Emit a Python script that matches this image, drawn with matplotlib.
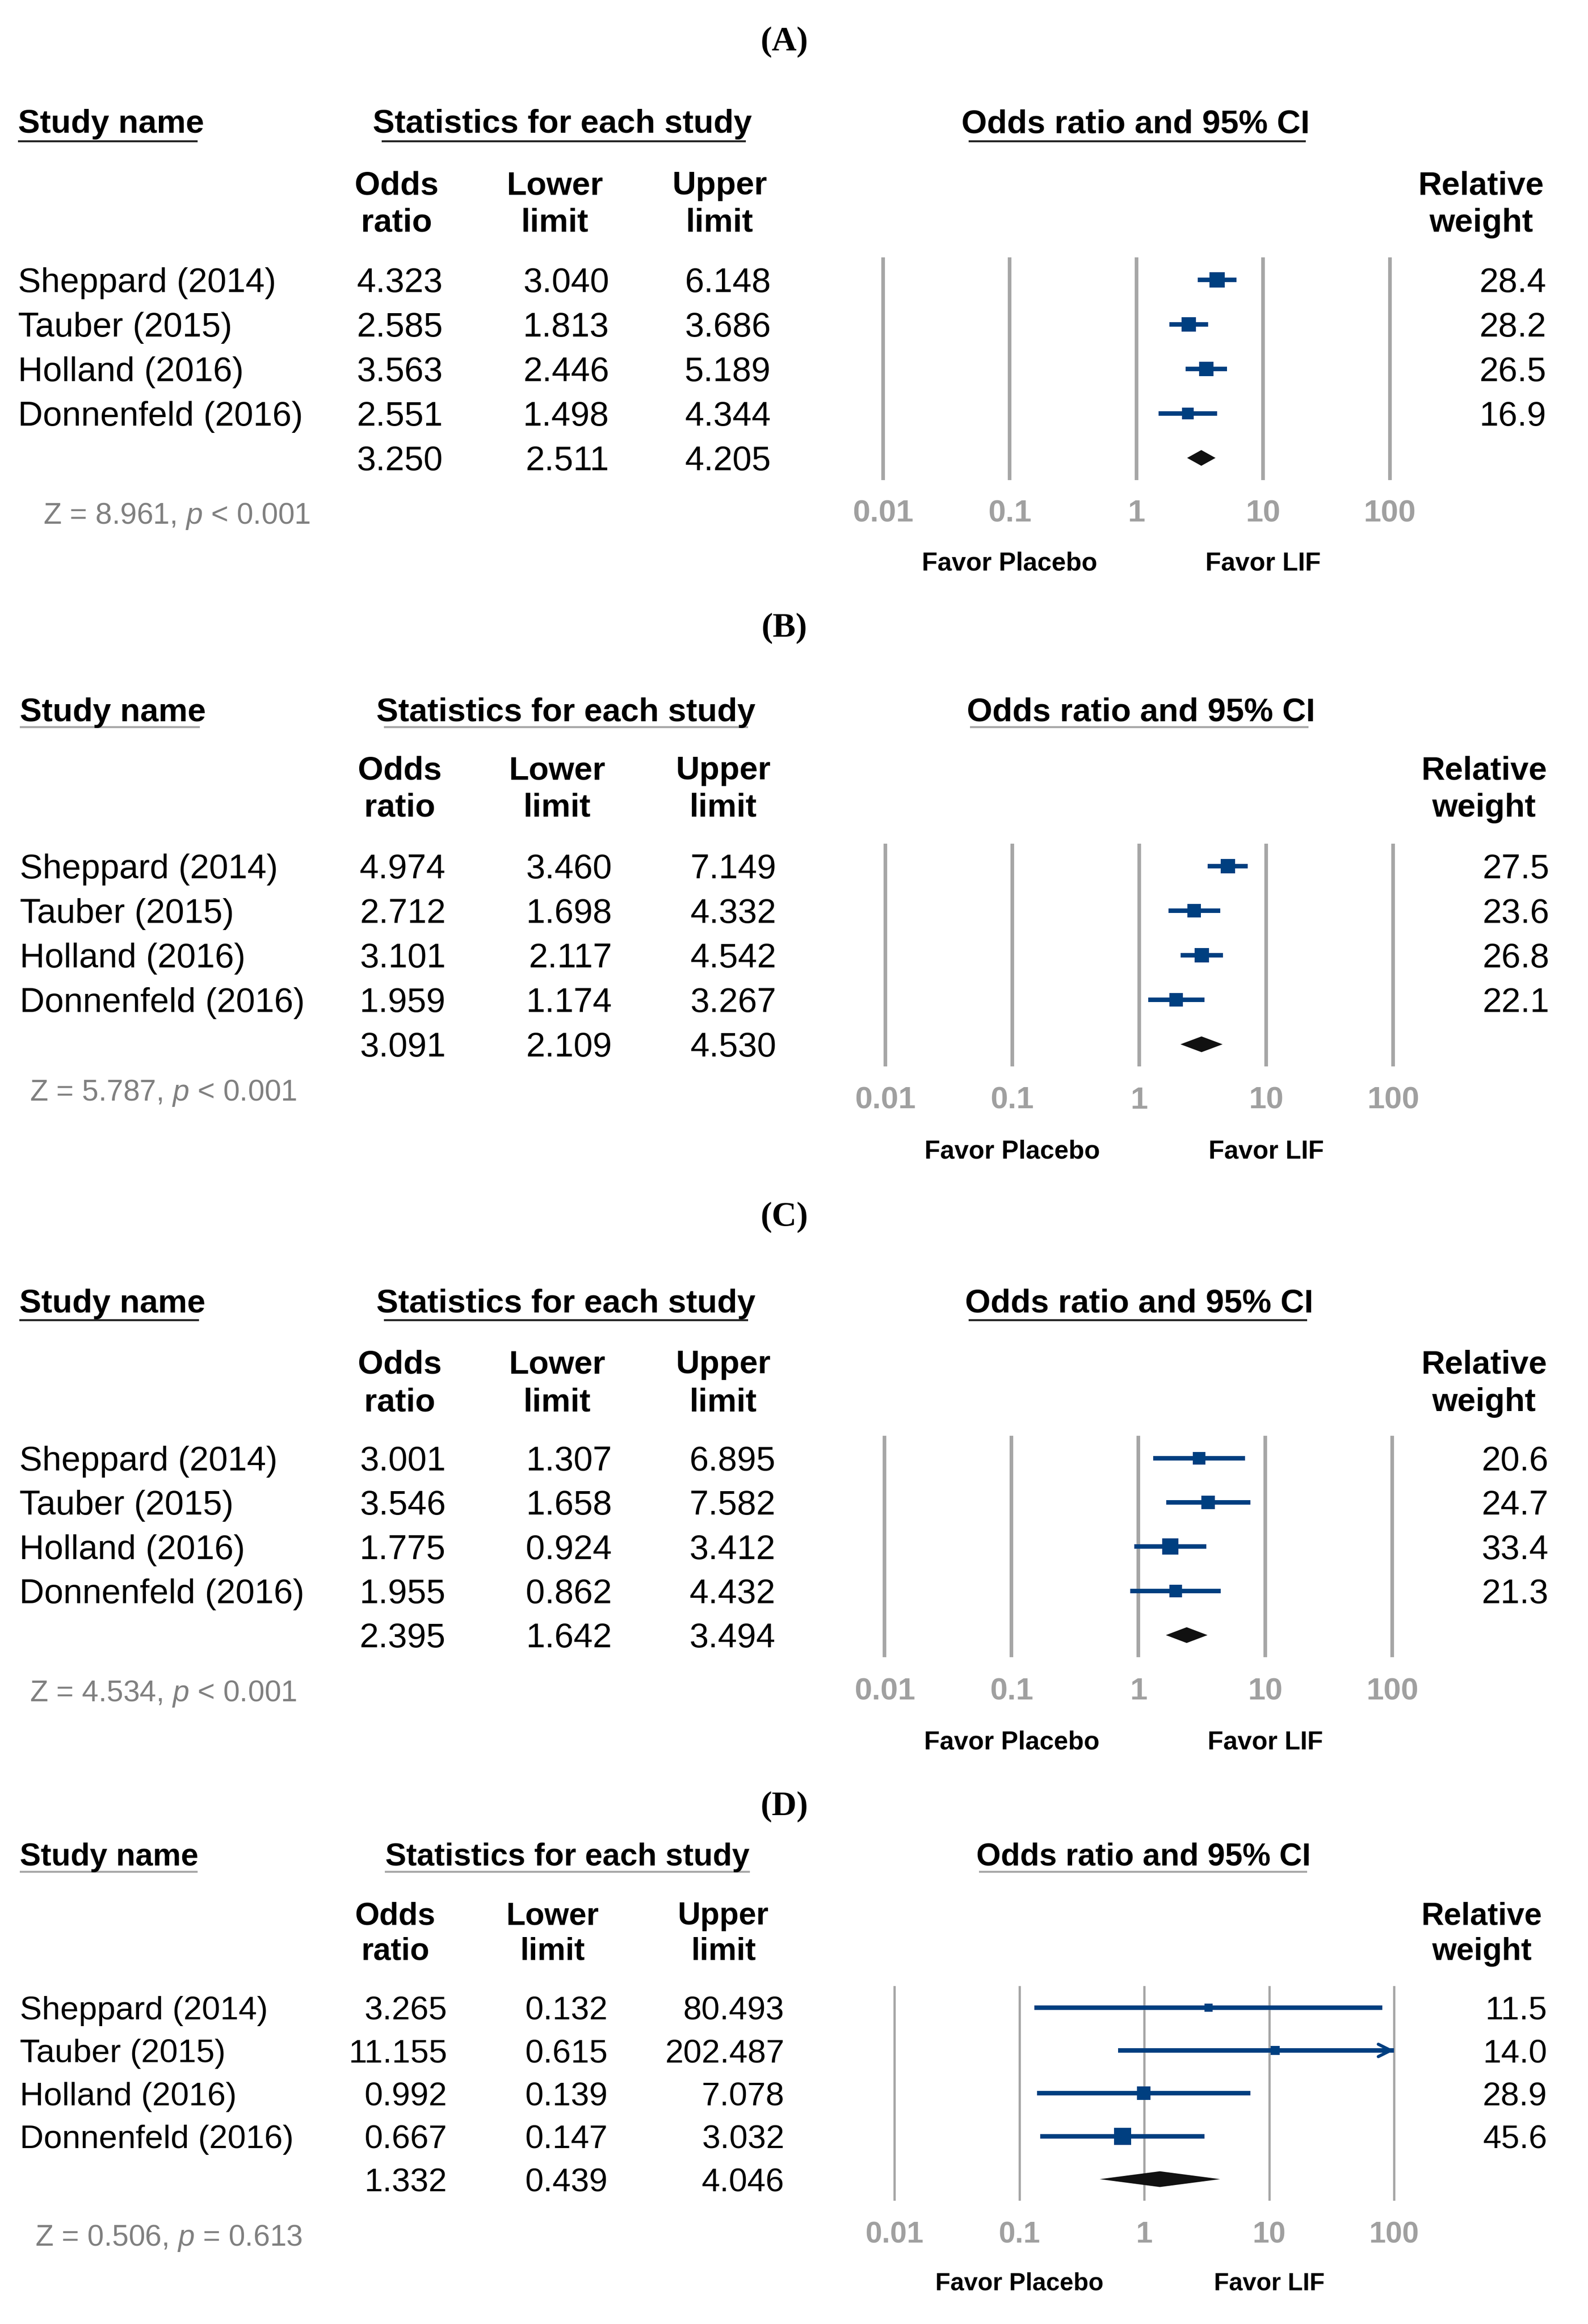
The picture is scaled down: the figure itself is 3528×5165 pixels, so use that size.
import numpy as np
import matplotlib
matplotlib.use("Agg")
import matplotlib.pyplot as plt

plt.rcParams['font.family'] = ['Liberation Sans', 'DejaVu Sans']
plt.rcParams['mathtext.fontset'] = 'custom'
plt.rcParams['mathtext.rm'] = 'Liberation Sans'
plt.rcParams['mathtext.it'] = 'Liberation Sans:italic'

# ---- data ----
studies = ["Sheppard (2014)", "Tauber (2015)", "Holland (2016)", "Donnenfeld (2016)"]
ticks = [0.01, 0.1, 1, 10, 100]
tick_labels = ["0.01", "0.1", "1", "10", "100"]

odds_a = [4.323, 2.585, 3.563, 2.551]
lower_a = [3.040, 1.813, 2.446, 1.498]
upper_a = [6.148, 3.686, 5.189, 4.344]
weight_a = [28.4, 28.2, 26.5, 16.9]
pooled_a = [3.250, 2.511, 4.205]
z_a = "Z = 8.961, $p$ < 0.001"

odds_b = [4.974, 2.712, 3.101, 1.959]
lower_b = [3.460, 1.698, 2.117, 1.174]
upper_b = [7.149, 4.332, 4.542, 3.267]
weight_b = [27.5, 23.6, 26.8, 22.1]
pooled_b = [3.091, 2.109, 4.530]
z_b = "Z = 5.787, $p$ < 0.001"

odds_c = [3.001, 3.546, 1.775, 1.955]
lower_c = [1.307, 1.658, 0.924, 0.862]
upper_c = [6.895, 7.582, 3.412, 4.432]
weight_c = [20.6, 24.7, 33.4, 21.3]
pooled_c = [2.395, 1.642, 3.494]
z_c = "Z = 4.534, $p$ < 0.001"

odds_d = [3.265, 11.155, 0.992, 0.667]
lower_d = [0.132, 0.615, 0.139, 0.147]
upper_d = [80.493, 202.487, 7.078, 3.032]
weight_d = [11.5, 14.0, 28.9, 45.6]
pooled_d = [1.332, 0.439, 4.046]
z_d = "Z = 0.506, $p$ = 0.613"

# ---- layout (in units of the reduced 1069 px wide view) ----
S = 3.3
W = 3528 / S
H = 5165 / S
BLUE = "#003F80"
GRID = "#A6A6A6"
DARK = "#222222"
LIGHT = "#A6A6A6"

layouts = {
    "A": dict(label_y=25.5, head_y=81.6, line_y=95, sub_y=(123, 148), row0=188.4, sp=30,
              z_x=29, z_y=345.5, tick_y=343.7, favor_y=378, name_x=12, name_ul=(12, 133),
              stats_cx=378.5, stats_ul=(257, 502), ci_cx=764.6, ci_ul=(652, 879),
              cols_c=(267, 373.5, 484.5), cols_r=(298, 410, 519), rel_cx=997, w_r=1041,
              x001=594.5, dec=85.3, ul=DARK, fs=1.0, grid_lw=5.8, k=6.2),
    "B": dict(label_y=420.5, head_y=477.8, line_y=489.7, sub_y=(517, 542), row0=583.3, sp=30,
              z_x=20, z_y=734, tick_y=739, favor_y=774, name_x=13.3, name_ul=(13.3, 134.5),
              stats_cx=381, stats_ul=(258.5, 503.5), ci_cx=768, ci_ul=(653, 881),
              cols_c=(269, 375, 487), cols_r=(300, 412, 522.5), rel_cx=999, w_r=1043,
              x001=596, dec=85.5, ul=LIGHT, fs=1.0, grid_lw=5.8, k=6.2),
    "C": dict(label_y=817, head_y=876, line_y=889, sub_y=(917, 942.5), row0=982, sp=29.8,
              z_x=20, z_y=1138.7, tick_y=1137, favor_y=1172, name_x=13, name_ul=(13, 134),
              stats_cx=381, stats_ul=(258.5, 503.5), ci_cx=767, ci_ul=(652, 880),
              cols_c=(269, 375, 487), cols_r=(300, 412, 522), rel_cx=999, w_r=1042.5,
              x001=595.6, dec=85.45, ul=DARK, fs=1.0, grid_lw=5.8, k=6.2),
    "D": dict(label_y=1214, head_y=1248.7, line_y=1260.6, sub_y=(1288.6, 1312.3), row0=1352, sp=28.9,
              z_x=23.7, z_y=1505.2, tick_y=1503, favor_y=1536.4, name_x=13.2, name_ul=(13.2, 133),
              stats_cx=382, stats_ul=(259, 505), ci_cx=770, ci_ul=(659, 880),
              cols_c=(266, 372, 487), cols_r=(301, 409, 528), rel_cx=997.5, w_r=1041.5,
              x001=602.2, dec=84.1, ul=LIGHT, fs=0.96, grid_lw=3.6, k=5.5),
}

panels = [
    ("A", odds_a, lower_a, upper_a, weight_a, pooled_a, z_a),
    ("B", odds_b, lower_b, upper_b, weight_b, pooled_b, z_b),
    ("C", odds_c, lower_c, upper_c, weight_c, pooled_c, z_c),
    ("D", odds_d, lower_d, upper_d, weight_d, pooled_d, z_d),
]

fig = plt.figure(figsize=(35.28, 51.65), dpi=100)
bg = fig.add_axes([0, 0, 1, 1])
bg.set_xlim(0, W)
bg.set_ylim(H, 0)
bg.axis("off")


def em(pt):
    # one em of a font of size pt, in view units
    return pt / 0.72 / S


def put(x, y, s, size, weight="normal", ha="left", color="black", family=None):
    kw = {}
    if family:
        kw["family"] = family
    bg.text(x, y + 0.358 * em(size), s, fontsize=size, fontweight=weight,
            ha=ha, va="baseline", color=color, **kw)


for name, odds, lower, upper, weights, pooled, ztext in panels:
    L = layouts[name]
    fs = L["fs"]
    reg, bold = 55 * fs, 52.5 * fs

    # panel label
    put(528, L["label_y"], f"({name})", 55, weight="bold", ha="center",
        family=["Liberation Serif", "DejaVu Serif"])

    # headers
    put(L["name_x"], L["head_y"], "Study name", bold, weight="bold")
    put(L["stats_cx"], L["head_y"], "Statistics for each study", bold, weight="bold", ha="center")
    put(L["ci_cx"], L["head_y"], "Odds ratio and 95% CI", bold, weight="bold", ha="center")
    for x0, x1 in (L["name_ul"], L["stats_ul"], L["ci_ul"]):
        bg.plot([x0, x1], [L["line_y"], L["line_y"]], color=L["ul"], lw=3.2, solid_capstyle="butt")

    sub_heads = [("Odds", "ratio"), ("Lower", "limit"), ("Upper", "limit")]
    for cx, (t1, t2) in zip(L["cols_c"], sub_heads):
        put(cx, L["sub_y"][0], t1, bold, weight="bold", ha="center")
        put(cx, L["sub_y"][1], t2, bold, weight="bold", ha="center")
    put(L["rel_cx"], L["sub_y"][0], "Relative", bold, weight="bold", ha="center")
    put(L["rel_cx"], L["sub_y"][1], "weight", bold, weight="bold", ha="center")

    # table rows
    n = len(odds)
    for i in range(n):
        y = L["row0"] + i * L["sp"]
        put(L["name_x"], y, studies[i], reg)
        for xr, v in zip(L["cols_r"], (odds[i], lower[i], upper[i])):
            put(xr, y, f"{v:.3f}", reg, ha="right")
        put(L["w_r"], y, f"{weights[i]:.1f}", reg, ha="right")
    y = L["row0"] + n * L["sp"]
    for xr, v in zip(L["cols_r"], pooled):
        put(xr, y, f"{v:.3f}", reg, ha="right")

    put(L["z_x"], L["z_y"], ztext, 47.5, color="#808080")

    # forest plot axes
    pad = 25
    top_y = L["row0"] - 0.5 * L["sp"]
    bot_y = L["row0"] + (n + 0.5) * L["sp"]
    left = L["x001"] - pad
    right = L["x001"] + 4 * L["dec"] + pad
    ax = fig.add_axes([left / W, 1 - bot_y / H, (right - left) / W, (bot_y - top_y) / H])
    ax.set_xscale("log")
    ax.set_xlim(10 ** (-2 - pad / L["dec"]), 10 ** (2 + pad / L["dec"]))
    ax.set_ylim(n + 0.5, -0.5)
    for sp_ in ax.spines.values():
        sp_.set_visible(False)
    ax.patch.set_alpha(0)
    ax.set_yticks([])
    ax.minorticks_off()

    for t in ticks:
        ax.axvline(t, color=GRID, lw=L["grid_lw"], zorder=1)

    tick_pt = 50 * fs
    dist_px = (L["tick_y"] - bot_y) * S
    pad_pt = (dist_px - 0.358 * tick_pt / 0.72) * 0.72
    ax.set_xticks(ticks)
    ax.set_xticklabels(tick_labels, fontsize=tick_pt, fontweight="bold", color="#A0A0A0")
    ax.tick_params(axis="x", length=0, pad=pad_pt)

    xmax = ticks[-1]
    for i in range(n):
        hi = min(upper[i], xmax)
        ax.hlines(i, lower[i], hi, color=BLUE, lw=7.2, zorder=3)
        if upper[i] > xmax:
            ax.annotate("", xy=(xmax, i), xytext=(xmax * 0.6, i),
                        arrowprops=dict(arrowstyle="->,head_length=0.9,head_width=0.45",
                                        color=BLUE, lw=5, mutation_scale=22,
                                        shrinkA=0, shrinkB=0), zorder=3)
        side_pt = L["k"] * np.sqrt(weights[i]) * 0.72
        ax.plot(odds[i], i, marker="s", ms=side_pt, color=BLUE, mew=0, zorder=4)

    est, lo, hi = pooled
    h = 17.5 / (L["sp"] * S)
    ax.fill([lo, est, hi, est], [n, n - h, n, n + h], color="#111111", lw=0, zorder=4)

    fav_pt = 41 * fs
    fav_base = L["favor_y"] + 0.358 * em(fav_pt)
    frac = (bot_y - fav_base) / (bot_y - top_y)
    ax.text(0.1, frac, "Favor Placebo", transform=ax.get_xaxis_transform(), ha="center",
            va="baseline", fontsize=fav_pt, fontweight="bold", clip_on=False)
    ax.text(10, frac, "Favor LIF", transform=ax.get_xaxis_transform(), ha="center",
            va="baseline", fontsize=fav_pt, fontweight="bold", clip_on=False)

fig.savefig("out.png", dpi=100, facecolor="white")
